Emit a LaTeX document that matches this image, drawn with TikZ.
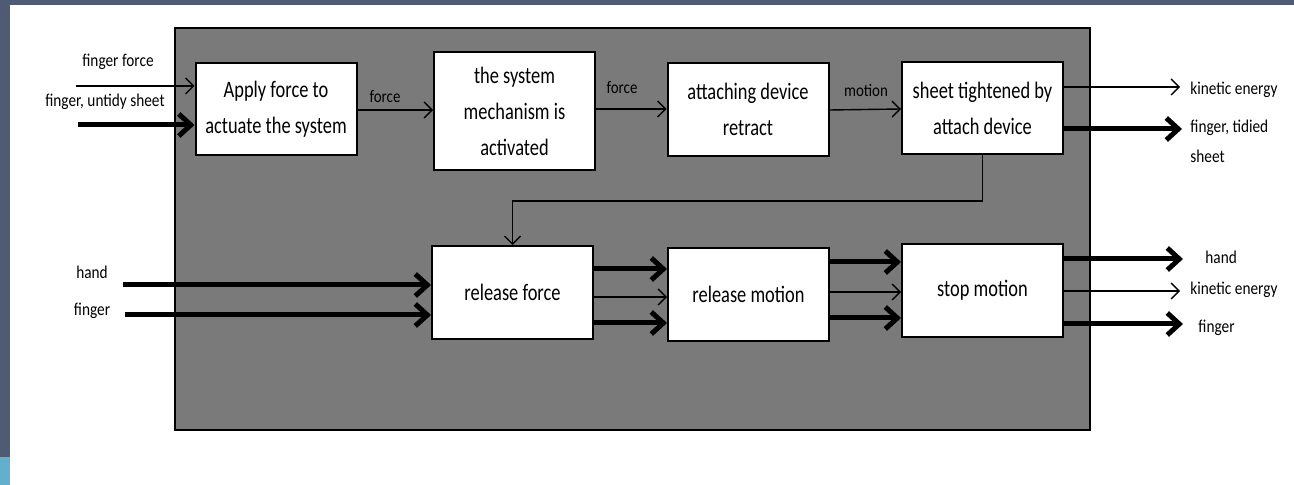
\documentclass[tikz,border=0pt]{standalone}
\usepackage{fontspec}
\setmainfont{Carlito}[FakeStretch=0.85]
\newfontfamily\boxfont{Carlito}[FakeStretch=0.78]
\newfontfamily\labfont{Carlito}[FakeStretch=0.85]
\usetikzlibrary{arrows.meta}
\definecolor{slate}{RGB}{79,91,115}
\definecolor{lightblue}{RGB}{98,176,204}
\definecolor{greyfill}{RGB}{122,122,122}
\tikzset{
  box/.style={draw=black, line width=1pt, fill=white, minimum width=80.5pt, inner sep=1pt,
    align=center, font=\boxfont\fontsize{11.8}{18}\selectfont},
  thinarr/.style={line width=0.7pt, -{Straight Barb[length=4pt,width=8pt]}},
  thickarr/.style={line width=2.5pt, -{Straight Barb[length=6pt,width=11pt]}},
  lab/.style={font=\labfont\fontsize{9}{15}\selectfont, inner sep=0pt},
  slab/.style={font=\labfont\fontsize{8.8}{12}\selectfont, inner sep=0pt},
}
\begin{document}
\begin{tikzpicture}[x=0.5pt, y=-0.5pt]
\useasboundingbox (0,0) rectangle (1294,485);
\fill[white] (0,0) rectangle (1294,485);
\fill[slate] (0,0) rectangle (1294,5);
\fill[slate] (0,0) rectangle (10,485);
\fill[lightblue] (0,457) rectangle (10,485);
\draw[fill=greyfill, line width=0.6pt] (175,28) rectangle (1090,430);

% boxes
\node[box, minimum height=46pt] (B1) at (276,109) {Apply force to\\actuate the system};
\node[box, minimum height=59pt] (B2) at (514.5,111) {the system\\mechanism is\\activated};
\node[box, minimum height=46.5pt] (B3) at (748,109.5) {attaching device\\retract};
\node[box, minimum height=46pt] (B4) at (982.5,108) {sheet tightened by\\attach device};
\node[box, minimum height=46.5pt] (B5) at (512.5,292.5) {release force};
\node[box, minimum height=46.5pt] (B6) at (748.5,294.5) {release motion};
\node[box, minimum height=46.5pt] (B7) at (982.5,290.5) {stop motion};

% free ends
\coordinate (ffin) at (76,86);
\coordinate (usin) at (78,125);
\coordinate (keout) at (1180,87);
\coordinate (tsout) at (1182,129);
\coordinate (handin) at (123,285);
\coordinate (fingin) at (125,315);
\coordinate (handout) at (1183,259);
\coordinate (keout2) at (1180,291);
\coordinate (fingout) at (1183,324);

% top row
\draw[thinarr] (ffin) -- (B1.west |- ffin);
\draw[thickarr] (usin) -- (B1.west |- usin);
\draw[thinarr] (B1.east |- 0,110) -- (B2.west |- 0,110);
\draw[thinarr] (B2.east |- 0,109) -- (B3.west |- 0,109);
\draw[thinarr] (B3.east |- 0,110) -- (B4.west |- 0,109);
\draw[thinarr] (B4.east |- keout) -- (keout);
\draw[thickarr] (B4.east |- tsout) -- (tsout);

% feedback
\draw[thinarr] (B4.south) |- (B5.north |- 0,201) -- (B5.north);

% bottom row
\draw[thickarr] (handin) -- (B5.west |- handin);
\draw[thickarr] (fingin) -- (B5.west |- fingin);
\draw[thickarr] (B5.east |- 0,269) -- (B6.west |- 0,269);
\draw[thinarr] (B5.east |- 0,297) -- (B6.west |- 0,297);
\draw[thickarr] (B5.east |- 0,323) -- (B6.west |- 0,323);
\draw[thickarr] (B6.east |- 0,262) -- (B7.west |- 0,262);
\draw[thinarr] (B6.east |- 0,292) -- (B7.west |- 0,292);
\draw[thickarr] (B6.east |- 0,318) -- (B7.west |- 0,318);
\draw[thickarr] (B7.east |- handout) -- (handout);
\draw[thinarr] (B7.east |- keout2) -- (keout2);
\draw[thickarr] (B7.east |- fingout) -- (fingout);

% labels
\node[lab] (l1) at (118,62) {finger force};
\node[lab] (l2) at (105,102) {finger, untidy sheet};
\node[slab] (l3) at (385,97) {force};
\node[slab] (l4) at (622,88) {force};
\node[slab] (l5) at (866,90) {motion};
\node[lab, anchor=west] (l6) at (1190,90) {kinetic energy};
\node[lab, anchor=north west, align=left, font=\labfont\fontsize{9}{15}\selectfont] (l7) at (1190,120) {finger, tidied\\sheet};
\node[lab] (l8) at (92,272) {hand};
\node[lab] (l9) at (92,311) {finger};
\node[lab, anchor=west] (l10) at (1205,257) {hand};
\node[lab, anchor=west] (l11) at (1190,290) {kinetic energy};
\node[lab, anchor=west] (l12) at (1198,328) {finger};
\end{tikzpicture}
\end{document}
